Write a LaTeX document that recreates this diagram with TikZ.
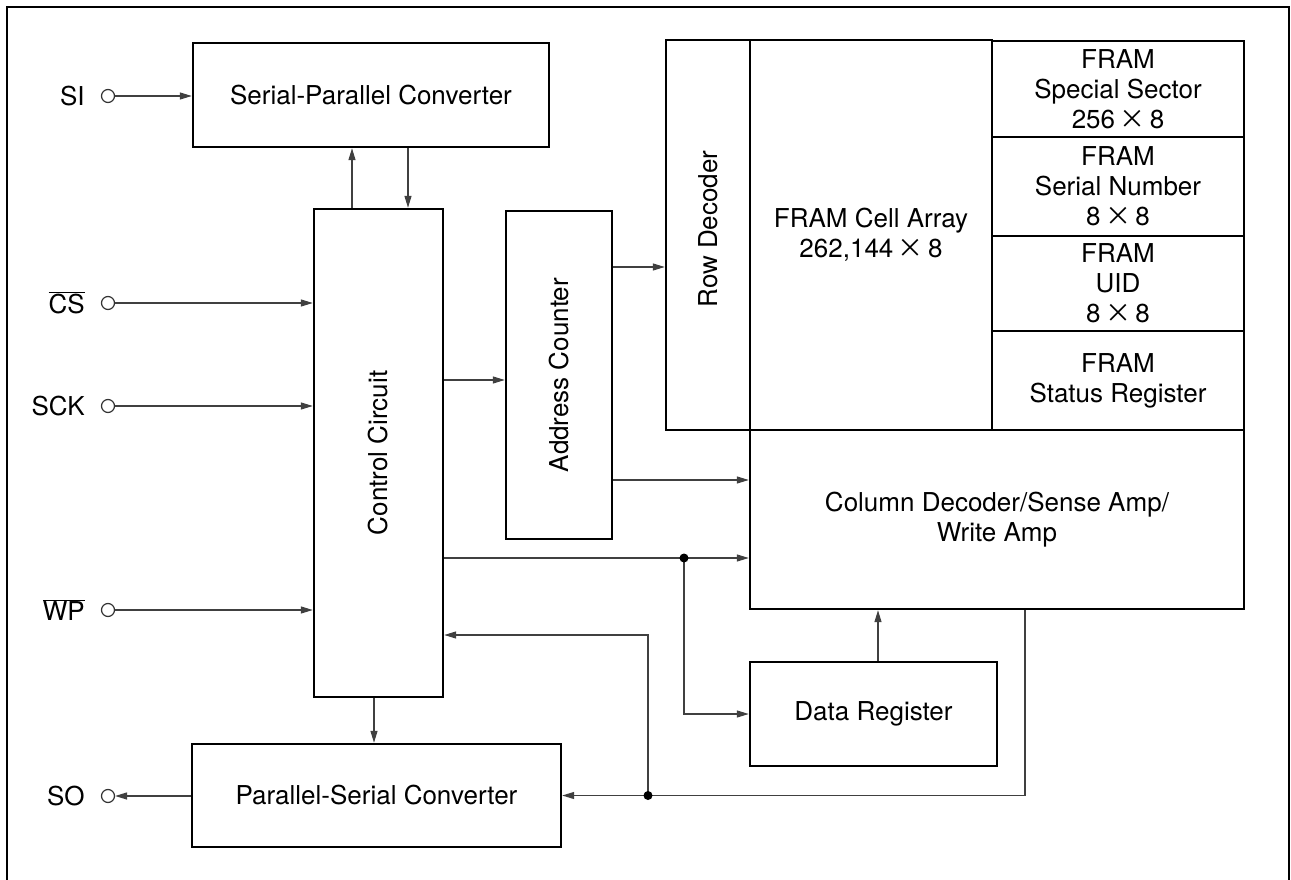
\documentclass[tikz,border=0pt]{standalone}
\usepackage{fontspec}
\setmainfont{TeX Gyre Heros}
\newfontfamily\cjk{Noto Sans CJK JP}
\newcommand\by{\,{\cjk ×}\,}
\usetikzlibrary{arrows.meta}

\begin{document}
\begin{tikzpicture}[x=1pt,y=-1pt,
        font=\fontsize{26}{30}\selectfont,
        box/.style={draw,line width=2.4pt,inner sep=0pt,align=center},
        sig/.style={draw=black!75,line width=1.3pt,-{Triangle[length=12pt,width=7pt]}},
        pin/.style={circle,draw=black!80,fill=white,line width=1.2pt,minimum size=13pt,inner sep=0pt},
        every label/.style={inner sep=0pt,label distance=16pt},
        dot/.style={circle,fill,minimum size=9pt,inner sep=0pt}]
        \useasboundingbox (0,0) rectangle (1291,880);
        % frame
        \draw[line width=2.5pt] (7,880) -- (7,7) -- (1289,7) -- (1289,880);

        % pins
        \node[pin,label=left:SI] (si) at (108,96) {};
        \node[pin,label={left:{$\overline{\mbox{CS}}$}}] (cs) at (108,303) {};
        \node[pin,label=left:SCK] (sck) at (108,406) {};
        \node[pin,label={left:{$\overline{\mbox{WP}}$}}] (wp) at (108,610) {};
        \node[pin,label=left:SO] (so) at (108,796) {};

        % logic
        \node[box,minimum width=356,minimum height=104] (spc) at (371,95) {Serial-Parallel Converter};
        \node[box,minimum width=129,minimum height=488,label={[rotate=90]center:Control Circuit}] (ctrl) at (378.5,453) {};
        \node[box,minimum width=106,minimum height=328,label={[rotate=90]center:Address Counter}] (addr) at (559,375) {};
        \node[box,minimum width=369,minimum height=103] (psc) at (376.5,795.5) {Parallel-Serial Converter};

        % memory
        \node[box,minimum width=84,minimum height=390,label={[rotate=90,xshift=6pt]center:Row Decoder}] (rowdec) at (708,235) {};
        \node[box,minimum width=242,minimum height=390] (cell) at (871,235) {FRAM Cell Array\\262,144\by 8};
        \node[box,minimum width=252,minimum height=96] (sector) at (1118,89) {FRAM\\Special Sector\\256\by 8};
        \node[box,minimum width=252,minimum height=99] (serial) at (1118,186.5) {FRAM\\Serial Number\\8\by 8};
        \node[box,minimum width=252,minimum height=95] (uid) at (1118,283.5) {FRAM\\UID\\8\by 8};
        \node[box,minimum width=252,minimum height=99] (status) at (1118,380.5) {FRAM\\Status Register};
        \node[box,minimum width=494,minimum height=179] (coldec) at (997,519.5) {Column Decoder/Sense Amp/\\Write Amp};
        \node[box,minimum width=247,minimum height=104] (datareg) at (873.5,714) {Data Register};

        % taps
        \coordinate (x1) at (352,0); \coordinate (x2) at (408,0); \coordinate (x3) at (374,0);
        \coordinate (x4) at (878,0); \coordinate (x5) at (1025,0);
        \coordinate (y1) at (0,380); \coordinate (y2) at (0,267); \coordinate (y3) at (0,480);
        \coordinate (y5) at (0,635);
        \coordinate (j1) at (684,558); \coordinate (j2) at (648,795.5);

        % connections
        \draw[sig] (si) -- (si -| spc.west);
        \draw[sig] (cs) -- (cs -| ctrl.west);
        \draw[sig] (sck) -- (sck -| ctrl.west);
        \draw[sig] (wp) -- (wp -| ctrl.west);
        \draw[sig] (psc.west |- so) -- (so);
        \draw[sig] (ctrl.north -| x1) -- (spc.south -| x1);
        \draw[sig] (spc.south -| x2) -- (ctrl.north -| x2);
        \draw[sig] (ctrl.south -| x3) -- (psc.north -| x3);
        \draw[sig] (ctrl.east |- y1) -- (addr.west |- y1);
        \draw[sig] (addr.east |- y2) -- (rowdec.west |- y2);
        \draw[sig] (addr.east |- y3) -- (coldec.west |- y3);
        \draw[sig] (ctrl.east |- j1) -- (coldec.west |- j1);
        \draw[sig] (j1) |- (datareg.west);
        \draw[sig] (datareg.north -| x4) -- (coldec.south -| x4);
        \draw[sig] (coldec.south -| x5) |- (psc.east);
        \draw[sig] (j2) |- (ctrl.east |- y5);
        \node[dot] (d1) at (j1) {};
        \node[dot] (d2) at (j2) {};
    \end{tikzpicture}
\end{document}
